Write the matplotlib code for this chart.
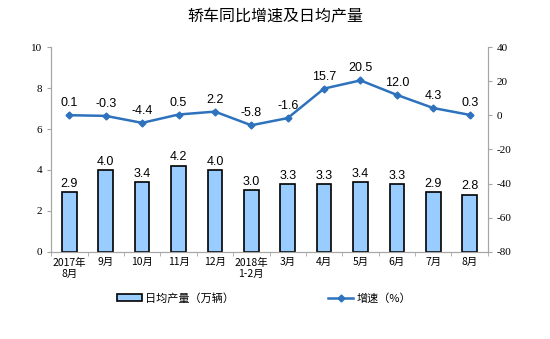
import matplotlib
matplotlib.use("Agg")
import matplotlib.pyplot as plt
import numpy as np

plt.rcParams['font.family'] = ['Noto Sans CJK SC', 'DejaVu Sans']
plt.rcParams['axes.unicode_minus'] = False

# chart data
months = ['2017年\n8月', '9月', '10月', '11月', '12月', '2018年\n1-2月',
          '3月', '4月', '5月', '6月', '7月', '8月']
daily_output = [2.9, 4.0, 3.4, 4.2, 4.0, 3.0, 3.3, 3.3, 3.4, 3.3, 2.9, 2.8]
growth = [0.1, -0.3, -4.4, 0.5, 2.2, -5.8, -1.6, 15.7, 20.5, 12.0, 4.3, 0.3]

bar_color = '#99CCFF'
line_color = '#2E72BE'
spine_color = '#A6A6A6'

fig = plt.figure(figsize=(5.5, 3.39), dpi=100)
ax = fig.add_axes([0.093, 0.257, 0.794, 0.604])
ax2 = ax.twinx()

x = np.arange(len(months))
ax.bar(x, daily_output, width=0.4, color=bar_color, edgecolor='black',
       linewidth=1.2, label='日均产量（万辆）', zorder=2)
for xi, v in zip(x, daily_output):
    ax.text(xi, v + 0.12, f'{v:.1f}', ha='center', va='bottom',
            fontsize=9, family='Liberation Sans')

ax2.plot(x, growth, color=line_color, linewidth=1.8, marker='D',
         markersize=3.5, label='增速（%）', zorder=3)
for xi, v in zip(x, growth):
    ax2.text(xi, v + 3.5, f'{v:.1f}', ha='center', va='bottom',
             fontsize=9, family='Liberation Sans')

ax.set_xlim(-0.5, len(months) - 0.5)
ax.set_ylim(0, 10)
ax.set_yticks(range(0, 11, 2))
ax2.set_ylim(-80, 40)
ax2.set_yticks(range(-80, 41, 20))

ax.set_xticks(x)
ax.set_xticklabels(months, fontsize=7.5, linespacing=1.2)
ax.set_xticks(np.arange(-0.5, len(months), 1), minor=True)
ax.tick_params(axis='x', which='major', length=0, pad=4)
ax.tick_params(axis='x', which='minor', length=3, color=spine_color, direction='out')
ax.tick_params(axis='y', length=3, color=spine_color, labelsize=8)
ax2.tick_params(axis='y', length=3, color=spine_color, labelsize=8)
for lab in ax.get_yticklabels() + ax2.get_yticklabels():
    lab.set_family('Liberation Serif')

for a in (ax, ax2):
    a.spines['top'].set_visible(False)
    for s in ('left', 'right', 'bottom'):
        a.spines[s].set_color(spine_color)

fig.suptitle('轿车同比增速及日均产量', fontsize=11.5, y=0.975)

h1, l1 = ax.get_legend_handles_labels()
h2, l2 = ax2.get_legend_handles_labels()
fig.legend(h1 + h2, l1 + l2, loc='center', bbox_to_anchor=(0.48, 0.12),
           ncol=2, frameon=False, fontsize=8, columnspacing=8.5,
           handlelength=2.2, handleheight=0.6, handletextpad=0.3)

fig.savefig('out.png', dpi=100)
